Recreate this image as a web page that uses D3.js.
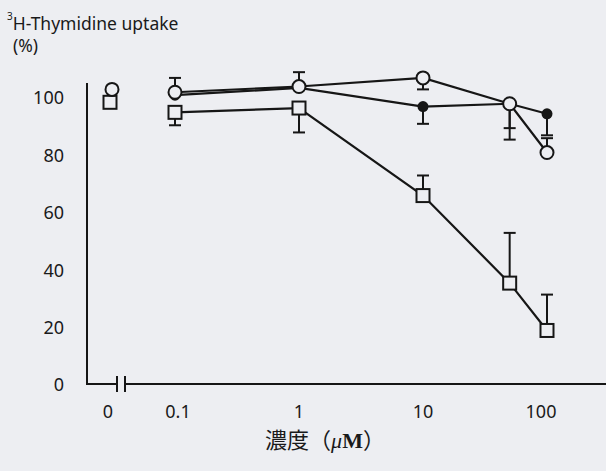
<!DOCTYPE html>
<html>
<head>
  <meta charset="UTF-8">
  <title>Thymidine uptake</title>
  <script src="https://cdn.jsdelivr.net/npm/d3@7"></script>
  <style>
    html, body { margin: 0; padding: 0; background: #edeef2; }
    svg { display: block; }
    text { font-family: "Noto Sans", "DejaVu Sans", sans-serif; fill: #1a1a1a; }
  </style>
</head>
<body>
  <div id="chart"></div>

  <script>
    // concentrations (uM); 0 is the control, drawn left of the axis break
    const yTicks = [0, 20, 40, 60, 80, 100];
    const xTicks = [0, 0.1, 1, 10, 100];
    const xTickLabels = ['0', '0.1', '1', '10', '100'];

    // open circles
    const openConc = [0, 0.1, 1, 10, 50, 100];
    const openValue = [103, 102, 104, 107, 98, 81];
    const openError = [0, 5, 5, -4, -12.5, 5];

    // filled circles
    const filledConc = [0.1, 1, 10, 50, 100];
    const filledValue = [101, 103.5, 97, 98, 94.5];
    const filledError = [0, 0, -6, -8.5, -7.5];

    // open squares
    const squareConc = [0, 0.1, 1, 10, 50, 100];
    const squareValue = [98.5, 95, 96.5, 66, 35.5, 19];
    const squareError = [0, -4.5, -8.5, 7, 17.5, 12.5];

    const width = 606, height = 471;
    const ink = '#161616';
    const paper = '#edeef2';

    const svg = d3.select('#chart').append('svg')
      .attr('width', width)
      .attr('height', height);

    // log10 position, with the control (0) placed one step left of 0.1 past the break
    const xPos = d3.scaleLinear().domain([-2, -1, 2]).range([110, 175, 547]);
    const x = c => xPos(c === 0 ? -2 : Math.log10(c));
    const y = d3.scaleLinear().domain([0, 100]).range([385, 98]);

    const series = [
      { conc: openConc, value: openValue, error: openError },
      { conc: filledConc, value: filledValue, error: filledError },
      { conc: squareConc, value: squareValue, error: squareError }
    ];

    function points(s)
    {
      return s.conc.map((c, i) => ({ c: c, v: s.value[i], e: s.error[i] }));
    }

    // axes: plain y line without ticks, x line with a break
    const axisY = y(0) - 1;
    svg.append('line')
      .attr('x1', 87).attr('x2', 87)
      .attr('y1', 83).attr('y2', axisY)
      .attr('stroke', ink).attr('stroke-width', 2);
    svg.append('line')
      .attr('x1', 86).attr('x2', 117)
      .attr('y1', axisY).attr('y2', axisY)
      .attr('stroke', ink).attr('stroke-width', 2);
    svg.append('line')
      .attr('x1', 125).attr('x2', width)
      .attr('y1', axisY).attr('y2', axisY)
      .attr('stroke', ink).attr('stroke-width', 2);
    [117, 125].forEach(bx => svg.append('line')
      .attr('x1', bx).attr('x2', bx)
      .attr('y1', axisY - 8).attr('y2', axisY + 8)
      .attr('stroke', ink).attr('stroke-width', 2));

    // y tick labels
    svg.append('g').selectAll('text').data(yTicks).enter()
      .append('text')
        .attr('x', 64)
        .attr('y', d => y(d))
        .attr('dy', '0.35em')
        .attr('text-anchor', 'end')
        .attr('font-size', 18)
        .text(d => d);

    // x tick labels
    svg.append('g').selectAll('text').data(xTicks).enter()
      .append('text')
        .attr('x', d => x(d) - (d === 0 ? 2 : 0) + (d === 0.1 ? 3 : 0) - (d === 100 ? 6 : 0))
        .attr('y', 418)
        .attr('text-anchor', 'middle')
        .attr('font-size', 18)
        .text((d, i) => xTickLabels[i]);

    // y title
    const title = svg.append('text').attr('x', 7).attr('y', 30).attr('font-size', 17.5);
    title.append('tspan').attr('font-size', 10).attr('dy', -10).text('3');
    title.append('tspan').attr('dy', 10).text('H-Thymidine uptake');
    svg.append('text').attr('x', 13).attr('y', 52).attr('font-size', 17.5).text('(%)');

    // x title
    const xt = svg.append('text')
      .attr('x', 325).attr('y', 448)
      .attr('text-anchor', 'middle')
      .attr('font-size', 22)
      .style('font-family', '"Noto Sans CJK JP", sans-serif');
    xt.append('tspan').text('濃度（');
    xt.append('tspan').style('font-family', '"Liberation Serif", serif').style('font-style', 'italic').text('μ');
    xt.append('tspan').style('font-family', '"Liberation Serif", serif').style('font-weight', 'bold').text('M');
    xt.append('tspan').text('）');

    // connecting lines (control point is not connected)
    const line = d3.line().x(d => x(d.c)).y(d => y(d.v));
    series.forEach(s =>
    {
      svg.append('path')
        .datum(points(s).filter(d => d.c > 0))
        .attr('d', line)
        .attr('fill', 'none')
        .attr('stroke', ink)
        .attr('stroke-width', 2.2);
    });

    // one-sided error bars
    series.forEach(s =>
    {
      const bars = svg.append('g').selectAll('g').data(points(s).filter(d => d.e !== 0)).enter().append('g');
      bars.append('line')
        .attr('x1', d => x(d.c)).attr('x2', d => x(d.c))
        .attr('y1', d => y(d.v)).attr('y2', d => y(d.v + d.e))
        .attr('stroke', ink).attr('stroke-width', 2);
      bars.append('line')
        .attr('x1', d => x(d.c) - 6).attr('x2', d => x(d.c) + 6)
        .attr('y1', d => y(d.v + d.e)).attr('y2', d => y(d.v + d.e))
        .attr('stroke', ink).attr('stroke-width', 2);
    });

    // markers: squares, then filled circles, open circles on top
    svg.append('g').selectAll('rect').data(points(series[2])).enter()
      .append('rect')
        .attr('x', d => x(d.c) - 6.5)
        .attr('y', d => y(d.v) - 6.5)
        .attr('width', 13).attr('height', 13)
        .attr('fill', paper)
        .attr('stroke', ink).attr('stroke-width', 2);

    svg.append('g').selectAll('circle').data(points(series[1])).enter()
      .append('circle')
        .attr('cx', d => x(d.c))
        .attr('cy', d => y(d.v))
        .attr('r', 5.5)
        .attr('fill', ink);

    svg.append('g').selectAll('circle').data(points(series[0])).enter()
      .append('circle')
        .attr('cx', d => x(d.c) + (d.c === 0 ? 2 : 0))
        .attr('cy', d => y(d.v))
        .attr('r', 6.5)
        .attr('fill', paper)
        .attr('stroke', ink).attr('stroke-width', 2);
  </script>
</body>
</html>
